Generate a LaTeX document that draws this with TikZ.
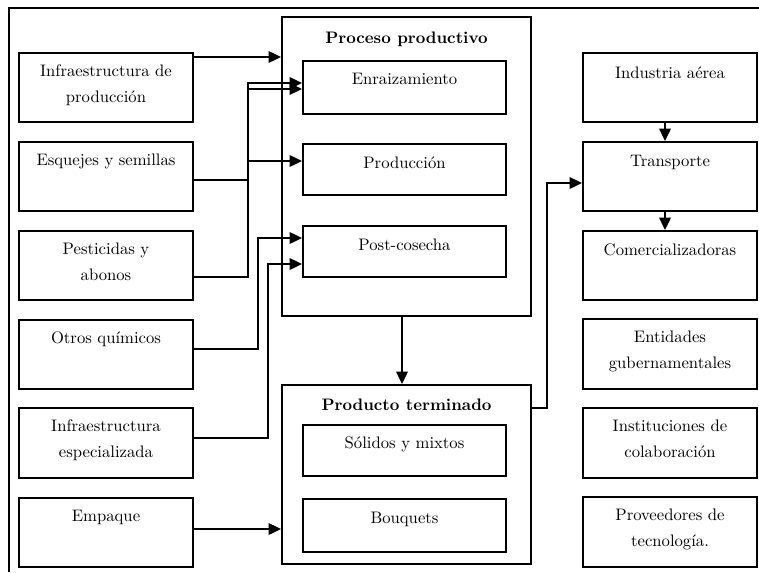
\documentclass[tikz,border=0pt]{standalone}
\usetikzlibrary{arrows.meta,fit,positioning}

\tikzset{
  caja/.style={draw, line width=1.2pt, inner sep=0pt},
  texto/.style={inner sep=0pt, align=center, font=\fontsize{10}{15.5}\selectfont},
  titulo/.style={inner sep=0pt, font=\bfseries\fontsize{10}{12}\selectfont},
  flecha/.style={line width=1.1pt, -{Triangle[length=7.5pt,width=7pt]}}
}

\begin{document}
\begin{tikzpicture}[x=0.6pt, y=-0.6pt]
    \useasboundingbox (0,0) rectangle (759,572);
    \coordinate (marco-a) at (9,572);
    \coordinate (marco-b) at (759,8);
    \draw[line width=1.2pt] (marco-a) |- (marco-b);

    % insumos
    \node[caja, fit={(19,53) (193,122)}]  (ip) {};
    \node[caja, fit={(19,142) (193,211)}] (es) {};
    \node[caja, fit={(19,231) (193,300)}] (pa) {};
    \node[caja, fit={(19,320) (193,389)}] (oq) {};
    \node[caja, fit={(19,408) (193,478)}] (ie) {};
    \node[caja, fit={(19,498) (193,567)}] (em) {};
    \node[texto, below=7.5pt of ip.north] (ip-t) {Infraestructura de\\producción};
    \node[texto, below=7.5pt of es.north] (es-t) {Esquejes y semillas};
    \node[texto, below=7.5pt of pa.north] (pa-t) {Pesticidas y\\abonos};
    \node[texto, below=7.5pt of oq.north] (oq-t) {Otros químicos};
    \node[texto, below=7.5pt of ie.north] (ie-t) {Infraestructura\\especializada};
    \node[texto, below=7.5pt of em.north] (em-t) {Empaque};

    % proceso y producto
    \node[caja, fit={(282,17) (531,316)}]  (pp) {};
    \node[caja, fit={(303,61) (506,114)}]  (en) {};
    \node[caja, fit={(303,144) (506,195)}] (pr) {};
    \node[caja, fit={(303,226) (506,277)}] (pc) {};
    \node[titulo, below=9.6pt of pp.north] (pp-t) {Proceso productivo};
    \node[texto, below=8pt of en.north] (en-t) {Enraizamiento};
    \node[texto, below=8pt of pr.north] (pr-t) {Producción};
    \node[texto, below=8pt of pc.north] (pc-t) {Post-cosecha};

    \node[caja, fit={(282,385) (531,564)}] (pt) {};
    \node[caja, fit={(303,425) (506,476)}] (sm) {};
    \node[caja, fit={(303,499) (506,552)}] (bq) {};
    \node[titulo, below=9pt of pt.north] (pt-t) {Producto terminado};
    \node[texto, below=7.5pt of sm.north] (sm-t) {Sólidos y mixtos};
    \node[texto, below=8pt of bq.north] (bq-t) {Bouquets};

    % entorno
    \node[caja, fit={(583,53) (757,122)}]  (ia) {};
    \node[caja, fit={(583,142) (757,211)}] (tr) {};
    \node[caja, fit={(583,231) (757,300)}] (co) {};
    \node[caja, fit={(583,319) (757,389)}] (eg) {};
    \node[caja, fit={(583,408) (757,478)}] (ic) {};
    \node[caja, fit={(583,497) (757,567)}] (pv) {};
    \node[texto, below=9pt of ia.north] (ia-t) {Industria aérea};
    \node[texto, below=8.5pt of tr.north] (tr-t) {Transporte};
    \node[texto, below=8pt of co.north] (co-t) {Comercializadoras};
    \node[texto, below=7.5pt of eg.north] (eg-t) {Entidades\\gubernamentales};
    \node[texto, below=7.5pt of ic.north] (ic-t) {Instituciones de\\colaboración};
    \node[texto, below=7.5pt of pv.north] (pv-t) {Proveedores de\\tecnología.};

    % conexiones
    \draw[flecha] (ip.east |- 0,57) -- (pp.west |- 0,57);
    \draw[flecha] (es.east |- 0,180) -| (248,89) -- (en.west |- 0,89);
    \draw[flecha] (248,161) -- (pr.west |- 0,161);
    \draw[flecha] (pa.east |- 0,277) -| (248,83) -- (en.west |- 0,83);
    \draw[flecha] (oq.east |- 0,349) -| (258,238) -- (pc.west |- 0,238);
    \draw[flecha] (ie.east |- 0,438) -| (268,264) -- (pc.west |- 0,264);
    \draw[flecha] (em.east |- 0,529) -- (pt.west |- 0,529);
    \draw[flecha] (pp.south -| 402,0) -- (pt.north -| 402,0);
    \draw[flecha] (pt.east |- 0,408) -- (547,408) |- (tr.west |- 0,183);
    \draw[flecha] (ia.south -| 665,0) -- (tr.north -| 665,0);
    \draw[flecha] (tr.south -| 665,0) -- (co.north -| 665,0);
\end{tikzpicture}
\end{document}
